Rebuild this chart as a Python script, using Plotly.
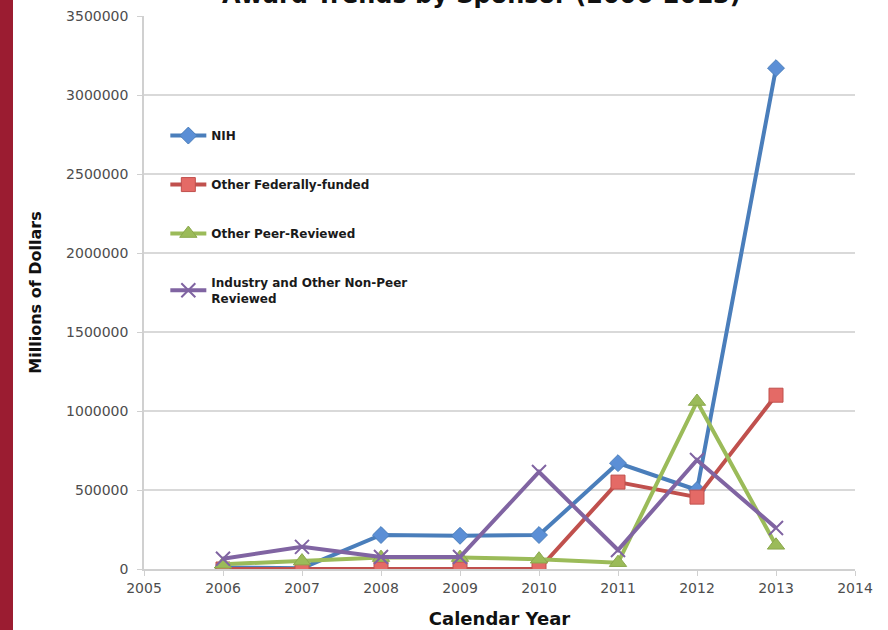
import plotly.graph_objects as go

years = [2006, 2007, 2008, 2009, 2010, 2011, 2012, 2013]
nih = [10000, 5000, 215000, 210000, 215000, 670000, 500000, 3170000]
other_fed = [0, 0, 0, 0, 0, 550000, 455000, 1100000]
other_peer = [30000, 50000, 72000, 72000, 62000, 40000, 1060000, 150000]
industry = [65000, 140000, 76000, 76000, 614000, 120000, 690000, 260000]

series_names = ["NIH", "Other Federally-funded", "Other Peer-Reviewed",
                "Industry and Other Non-Peer<br>Reviewed"]

fig = go.Figure()
styles = [
    dict(line=dict(color="#4a7ebb", width=4),
         marker=dict(symbol="diamond", size=13, color="#5b8fd6", line=dict(color="#4a7ebb", width=1))),
    dict(line=dict(color="#c0504d", width=4),
         marker=dict(symbol="square", size=14, color="#e46a66", line=dict(color="#c0504d", width=1))),
    dict(line=dict(color="#9bbb59", width=4),
         marker=dict(symbol="triangle-up", size=15, color="#9bbb59", line=dict(color="#8aa84c", width=1))),
    dict(line=dict(color="#8064a2", width=4),
         marker=dict(symbol="x-thin", size=14, color="#8064a2", line=dict(color="#8064a2", width=2))),
]
for i, (name, vals) in enumerate(zip(series_names, [nih, other_fed, other_peer, industry])):
    fig.add_trace(go.Scatter(x=years, y=vals, mode="lines+markers", name=name,
                             legendgroup=f"g{i}", **styles[i]))

fig.update_layout(
    width=888, height=630,
    margin=dict(l=144, r=33, t=16, b=61, autoexpand=False),
    paper_bgcolor="white", plot_bgcolor="white",
    showlegend=True,
    legend=dict(x=0.03, y=0.81, xanchor="left", yanchor="top",
                bgcolor="rgba(0,0,0,0)", tracegroupgap=30,
                font=dict(family="DejaVu Sans", size=12, color="#1a1a1a", weight="bold"),
                itemwidth=36),
    font=dict(family="DejaVu Sans"),
)
fig.update_xaxes(range=[2005, 2014], dtick=1, tick0=2005, showgrid=False, automargin=False,
                 showline=True, linecolor="#d0d0d0", linewidth=1.5,
                 ticks="outside", ticklen=5, tickcolor="#d0d0d0",
                 tickfont=dict(family="DejaVu Sans", size=14, color="#4d4d4d"),
                 title=dict(text="Calendar Year", standoff=18,
                            font=dict(family="DejaVu Sans", size=18, color="#111111", weight="bold")),
                 zeroline=False)
fig.update_yaxes(range=[0, 3500000], dtick=500000, showgrid=True, gridcolor="#d9d9d9", gridwidth=1.5,
                 automargin=False,
                 showline=True, linecolor="#d0d0d0", linewidth=1.5,
                 ticks="outside", ticklen=5, tickcolor="#d0d0d0", ticklabelstandoff=6,
                 tickformat="d",
                 tickfont=dict(family="DejaVu Sans", size=14, color="#4d4d4d"),
                 title=dict(text="Millions of Dollars", standoff=20,
                            font=dict(family="DejaVu Sans", size=16, color="#111111", weight="bold")),
                 zeroline=False)

fig.add_annotation(text="Award Trends by Sponsor (2006-2013)", xref="paper", yref="paper",
                   x=0.475, y=1, yshift=21, yanchor="middle", showarrow=False,
                   font=dict(family="DejaVu Sans", size=24, color="#111111", weight="bold"))

fig.add_shape(type="rect", xref="paper", yref="paper",
              x0=-144 / 711, x1=(13 - 144) / 711, y0=-61 / 553, y1=1 + 16 / 553,
              fillcolor="#9b1c31", line=dict(width=0), layer="above")

fig.write_html("out.html", config={"displayModeBar": False},
               post_script="document.body.style.margin='0';document.body.style.overflow='hidden';")
